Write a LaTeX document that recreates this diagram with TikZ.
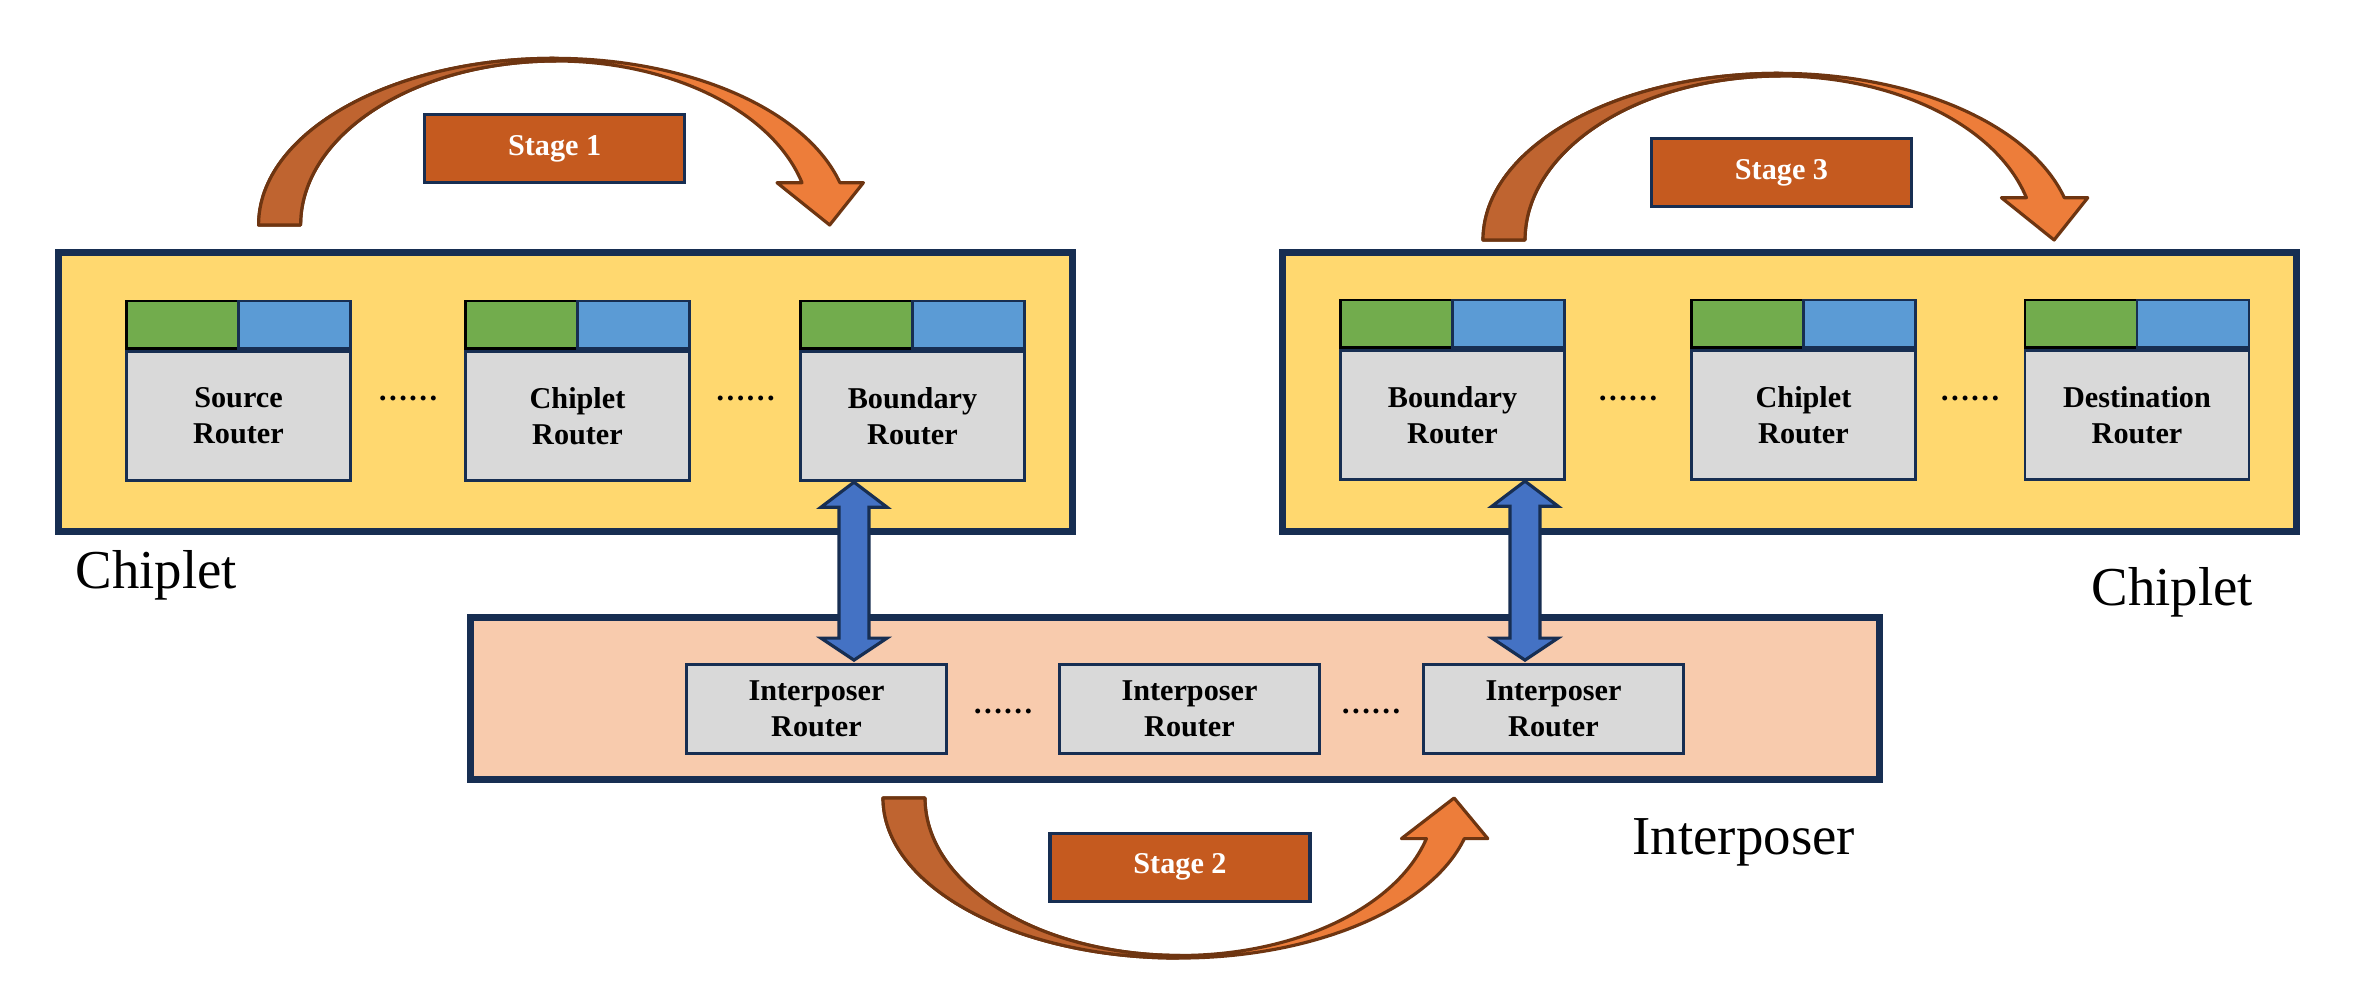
\documentclass[tikz,border=0pt]{standalone}
\usepackage{fontspec}
\setmainfont{Liberation Serif}
\usetikzlibrary{calc}

\definecolor{navy}{HTML}{172E52}
\definecolor{chipfill}{HTML}{FFD86F}
\definecolor{interfill}{HTML}{F8CBAD}
\definecolor{routergray}{HTML}{D9D9D9}
\definecolor{portgreen}{HTML}{72AC4D}
\definecolor{portblue}{HTML}{5B9BD5}
\definecolor{stagefill}{HTML}{C55A1F}
\definecolor{arrowdark}{HTML}{BF6430}
\definecolor{arrowlight}{HTML}{ED7D3A}
\definecolor{arrowedge}{HTML}{6E3511}
\definecolor{linkblue}{HTML}{4472C4}

\newcommand\routerfont{\fontsize{8.6}{10.3}\selectfont\bfseries}
\newcommand\labelfont{\fontsize{15.6}{18}\selectfont}

\begin{document}
\begin{tikzpicture}[
  every node/.style={inner sep=0pt},
  chipbox/.style={draw=navy, line width=2pt, fill=chipfill, minimum width=10.14cm, minimum height=2.79cm},
  interbox/.style={chipbox, fill=interfill, minimum width=14.09cm, minimum height=1.62cm},
  router/.style={draw=navy, line width=0.8pt, fill=routergray, font=\routerfont, align=center, minimum width=2.24cm, minimum height=1.295cm},
  irouter/.style={router, minimum width=2.60cm, minimum height=0.89cm},
  inport/.style={draw=black, line width=0.8pt, fill=portgreen, minimum width=1.12cm, minimum height=0.475cm},
  outport/.style={draw=navy, line width=0.8pt, fill=portblue, minimum width=1.12cm, minimum height=0.475cm},
  dots/.style={font=\routerfont, anchor=base},
  stage/.style={draw=navy, line width=0.9pt, fill=stagefill, text=white, font=\routerfont, minimum width=2.60cm, minimum height=0.68cm},
  biglabel/.style={font=\labelfont, anchor=base west},
  linkarrow/.style={draw=navy, line width=0.9pt, fill=linkblue, line join=miter},
  arrowbody/.style={draw=arrowedge, line width=0.9pt, line join=round},
  bentarrow/.pic={
    \filldraw[arrowbody, fill=arrowlight] (0,0) arc[start angle=180, end angle=14.7, x radius=2.955, y radius=1.667]
      -- (6.048,0.423) -- (5.711,0) -- (5.184,0.423) -- (5.434,0.423)
      arc[start angle=14.95, end angle=180, x radius=2.55, y radius=1.64] -- cycle;
    \filldraw[arrowbody, fill=arrowdark] (0,0) arc[start angle=180, end angle=90, x radius=2.955, y radius=1.667]
      -- (2.970,1.64) arc[start angle=90, end angle=180, x radius=2.55, y radius=1.64] -- cycle;
  }
]
\useasboundingbox (0,0) rectangle (23.72,-9.92);

% Chiplets and interposer
\node[chipbox] (chipl) at (5.655,-3.92) {};
\node[chipbox] (chipr) at (17.895,-3.92) {};
\node[interbox] (inter) at (11.75,-6.985) {};

% Chiplet routers
\node[router] (src) at (2.385,-4.16) {Source\\Router};
\node[router] (chl) at (5.775,-4.16) {Chiplet\\Router};
\node[router] (bdl) at (9.125,-4.16) {Boundary\\Router};
\node[router] (bdr) at (14.525,-4.15) {Boundary\\Router};
\node[router] (chr) at (18.035,-4.15) {Chiplet\\Router};
\node[router] (dst) at (21.37,-4.15) {Destination\\Router};
% Router ports
\foreach \r in {src, chl, bdl, bdr, chr, dst} {
  \node[inport, anchor=south west] (\r-in) at (\r.north west) {};
  \node[outport, anchor=south east] (\r-out) at (\r.north east) {};
}

% Interposer routers
\node[irouter] (ipa) at (8.165,-7.09) {Interposer\\Router};
\node[irouter] (ipb) at (11.895,-7.09) {Interposer\\Router};
\node[irouter] (ipc) at (15.535,-7.09) {Interposer\\Router};

% Ellipses between routers
\foreach \i/\x/\y in {1/4.08/-4.00, 2/7.455/-4.00, 3/16.28/-4.00, 4/19.70/-4.00, 5/10.03/-7.13, 6/13.71/-7.13} {
  \node[dots] (dots\i) at (\x,\y) {……};
}

% Vertical links between chiplets and interposer
\foreach \xa/\ra/\rb in {8.54/bdl/ipa, 15.25/bdr/ipc} {
  \path[linkarrow] let \p1=(\ra.south), \p2=(\rb.north) in
    (\xa cm,\y1) -- ++(0.33,-0.25) -- ++(-0.18,0) -- (\xa cm+0.15cm,\y2+0.25cm) -- ++(0.18,0)
    -- (\xa cm,\y2+0.03cm) -- ++(-0.33,0.22) -- ++(0.18,0) -- (\xa cm-0.15cm,\y1-0.25cm) -- ++(-0.18,0) -- cycle;
}

% Stage arrows
\pic at (2.586,-2.25) {bentarrow};
\pic at (14.83,-2.40) {bentarrow};
\pic[yscale=-0.96] at (8.83,-7.98) {bentarrow};
\node[stage] (st1) at (5.547,-1.484) {Stage 1};
\node[stage] (st2) at (11.80,-8.672) {Stage 2};
\node[stage] (st3) at (17.815,-1.729) {Stage 3};

% Labels
\node[biglabel] (lchip) at (0.75,-5.88) {Chiplet};
\node[biglabel] (rchip) at (20.91,-6.05) {Chiplet};
\node[biglabel] (linter) at (16.32,-8.54) {Interposer};
\end{tikzpicture}
\end{document}
